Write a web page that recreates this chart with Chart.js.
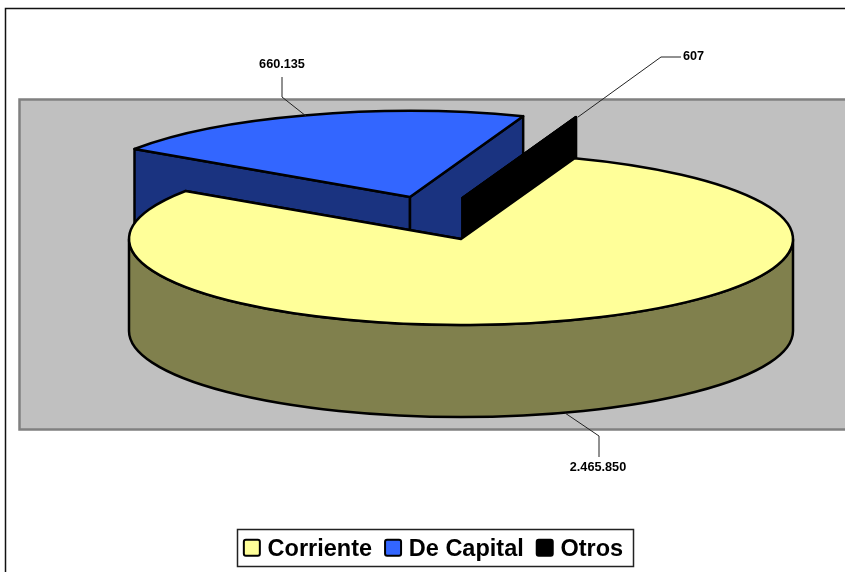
<!DOCTYPE html>
<html>
<head>
<meta charset="utf-8">
<title>Torta 3D</title>
<script src="https://cdn.jsdelivr.net/npm/chart.js@4"></script>
<style>
    html, body { margin: 0; padding: 0; background: #fff; overflow: hidden; }
    canvas { display: block; }
</style>
</head>
<body>
<canvas id="chart" width="845" height="572"></canvas>
<script>
const categories = ["Corriente", "De Capital", "Otros"];
const values = [2465850, 660135, 607];
const topColors = ["#FFFF99", "#3366FF", "#000000"];
const wallColors = ["#80804D", "#1A3380", "#000000"];

// how the flat pie is laid on the page
const pie = { cx: 461, cy: 239, rx: 332, ry: 86, depth: 92 };
const explode = [[0, 0], [-51, -42], [1.5, -41]];
const drawOrder = [1, 2, 0];
const leaders = [
    [[565, 413], [599, 436], [599, 457]],
    [[306, 116], [282, 97], [282, 77]],
    [[578, 117], [661, 57], [681, 57]]
];
const labelSpots = [[598, 467.5, "center"], [282, 64.5, "center"], [683, 56.5, "left"]];

function formatValue(n) {
    return String(n).replace(/\B(?=(\d{3})+$)/g, ".");
}

function outlineStyle(ctx) {
    ctx.strokeStyle = "#000";
    ctx.lineWidth = 2.5;
    ctx.lineJoin = "round";
}

function drawFace(ctx, ox, oy, angle, color) {
    const x = ox + pie.rx * Math.cos(angle);
    const y = oy + pie.ry * Math.sin(angle);
    ctx.beginPath();
    ctx.moveTo(ox, oy);
    ctx.lineTo(x, y);
    ctx.lineTo(x, y + pie.depth);
    ctx.lineTo(ox, oy + pie.depth);
    ctx.closePath();
    ctx.fillStyle = color;
    ctx.fill();
    ctx.stroke();
}

function drawSlice(ctx, arc, i) {
    const ox = pie.cx + explode[i][0];
    const oy = pie.cy + explode[i][1];
    outlineStyle(ctx);

    drawFace(ctx, ox, oy, arc.startAngle, wallColors[i]);
    drawFace(ctx, ox, oy, arc.endAngle, wallColors[i]);

    // outer wall, only the part facing the viewer
    const a0 = Math.max(arc.startAngle, 0);
    const a1 = Math.min(arc.endAngle, Math.PI);
    if (a1 > a0) {
        ctx.beginPath();
        ctx.ellipse(ox, oy, pie.rx, pie.ry, 0, a0, a1);
        ctx.ellipse(ox, oy + pie.depth, pie.rx, pie.ry, 0, a1, a0, true);
        ctx.closePath();
        ctx.fillStyle = wallColors[i];
        ctx.fill();
        ctx.stroke();
    }

    // top face is the library's own arc, squashed
    ctx.save();
    ctx.translate(ox, oy);
    ctx.scale(pie.rx / arc.outerRadius, pie.ry / arc.outerRadius);
    ctx.translate(-arc.x, -arc.y);
    arc.draw(ctx);
    ctx.restore();

    ctx.beginPath();
    ctx.moveTo(ox, oy);
    ctx.ellipse(ox, oy, pie.rx, pie.ry, 0, arc.startAngle, arc.endAngle);
    ctx.closePath();
    ctx.stroke();
}

const pie3d = {
    id: "pie3d",
    beforeDraw(chart) {
        const ctx = chart.ctx;
        ctx.save();
        ctx.fillStyle = "#C0C0C0";
        ctx.strokeStyle = "#808080";
        ctx.lineWidth = 2.5;
        ctx.fillRect(19.5, 99.5, 840, 330);
        ctx.strokeRect(19.5, 99.5, 840, 330);
        ctx.strokeStyle = "#111";
        ctx.lineWidth = 1.5;
        ctx.beginPath();
        ctx.moveTo(5.5, 572);
        ctx.lineTo(5.5, 8.5);
        ctx.lineTo(845, 8.5);
        ctx.stroke();
        ctx.restore();
    },
    beforeDatasetsDraw(chart) {
        const ctx = chart.ctx;
        const arcs = chart.getDatasetMeta(0).data;
        ctx.save();
        drawOrder.forEach(i => drawSlice(ctx, arcs[i], i));
        ctx.restore();
        return false;
    },
    afterDraw(chart) {
        const ctx = chart.ctx;
        ctx.save();

        // leader lines and value labels
        ctx.strokeStyle = "#222";
        ctx.lineWidth = 1;
        leaders.forEach(points => {
            ctx.beginPath();
            points.forEach((p, j) => j ? ctx.lineTo(p[0], p[1]) : ctx.moveTo(p[0], p[1]));
            ctx.stroke();
        });
        ctx.fillStyle = "#000";
        ctx.font = "bold 12.7px 'Liberation Sans'";
        ctx.textBaseline = "middle";
        values.forEach((v, i) => {
            ctx.textAlign = labelSpots[i][2];
            ctx.fillText(formatValue(v), labelSpots[i][0], labelSpots[i][1]);
        });

        // legend frame and the larger rounded swatches
        ctx.strokeStyle = "#222";
        ctx.lineWidth = 1.5;
        ctx.strokeRect(237.5, 529.5, 396, 37);
        chart.legend.legendHitBoxes.forEach((box, i) => {
            const mid = box.top + box.height / 2 - 1.5;
            ctx.beginPath();
            ctx.roundRect(box.left, mid - 8, 16, 16, 2);
            ctx.fillStyle = topColors[i];
            ctx.fill();
            ctx.strokeStyle = "#000";
            ctx.lineWidth = 2;
            ctx.stroke();
        });
        ctx.restore();
    }
};

new Chart(document.getElementById("chart"), {
    type: "pie",
    data: {
        labels: categories,
        datasets: [{
            data: values,
            backgroundColor: topColors,
            borderWidth: 0
        }]
    },
    options: {
        responsive: false,
        animation: false,
        rotation: 20,
        radius: 200,
        layout: { padding: { left: 22, bottom: 1 } },
        plugins: {
            tooltip: { enabled: false },
            legend: {
                position: "bottom",
                labels: {
                    boxWidth: 12,
                    boxHeight: 12,
                    padding: 13,
                    color: "#000",
                    font: { family: "'Liberation Sans'", size: 23.5, weight: "bold" }
                }
            }
        }
    },
    plugins: [pie3d]
});
</script>
</body>
</html>
